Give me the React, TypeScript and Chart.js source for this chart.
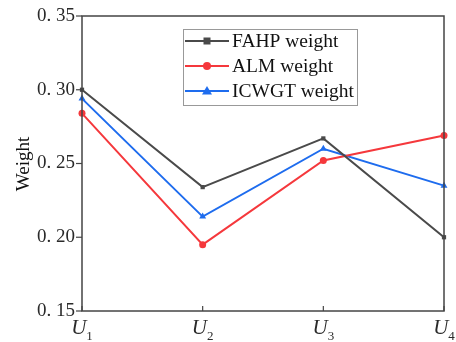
import React, { useEffect, useRef } from "react";
import { Chart, registerables } from "chart.js";

Chart.register(...registerables);

const categories = ["U1", "U2", "U3", "U4"];
const fahpWeight = [0.300, 0.234, 0.267, 0.200];
const almWeight = [0.284, 0.195, 0.252, 0.269];
const icwgtWeight = [0.294, 0.214, 0.260, 0.235];
const yTicks = [0.15, 0.2, 0.25, 0.3, 0.35];
const seriesNames = ["FAHP weight", "ALM weight", "ICWGT weight"];
const yTitle = "Weight";

const SERIF = "'Liberation Serif', 'DejaVu Serif', serif";

const framePlugin = {
  id: "frameAndTicks",
  afterDraw(chart: any) {
    const { ctx, chartArea } = chart;
    const { left, right, top, bottom } = chartArea;
    const xs = chart.scales.x;
    const ys = chart.scales.y;
    ctx.save();
    // frame
    ctx.strokeStyle = "#444";
    ctx.lineWidth = 1.5;
    ctx.strokeRect(left, top, right - left, bottom - top);
    // y ticks (outside) and labels
    ctx.lineWidth = 1.2;
    ctx.fillStyle = "#2a2a2a";
    ctx.font = `19px ${SERIF}`;
    ctx.textAlign = "right";
    ctx.textBaseline = "middle";
    yTicks.forEach((v) => {
      const y = ys.getPixelForValue(v);
      ctx.beginPath();
      ctx.moveTo(left - 6, y);
      ctx.lineTo(left, y);
      ctx.stroke();
      const s = v.toFixed(2).replace(".", ". ");
      ctx.fillText(s, left - 7, y);
    });
    // x ticks (inside) and labels
    categories.forEach((c, i) => {
      const x = xs.getPixelForValue(i);
      ctx.beginPath();
      ctx.moveTo(x, bottom);
      ctx.lineTo(x, bottom - 5);
      ctx.stroke();
      const main = c.slice(0, 1);
      const sub = c.slice(1);
      ctx.font = `italic 21px ${SERIF}`;
      const mw = ctx.measureText(main).width;
      ctx.font = `13px ${SERIF}`;
      const sw = ctx.measureText(sub).width;
      let total = mw + sw;
      let x0 = x - total / 2;
      if (x0 + total > chart.width - 1) x0 = chart.width - 1 - total;
      ctx.textAlign = "left";
      ctx.textBaseline = "alphabetic";
      ctx.font = `italic 21px ${SERIF}`;
      ctx.fillText(main, x0, 334);
      ctx.font = `13px ${SERIF}`;
      ctx.fillText(sub, x0 + mw, 340);
    });
    // y title
    ctx.save();
    ctx.translate(24, 164);
    ctx.rotate(-Math.PI / 2);
    ctx.textAlign = "center";
    ctx.textBaseline = "middle";
    ctx.font = `19px ${SERIF}`;
    ctx.fillStyle = "#111";
    ctx.fillText(yTitle, 0, 0);
    ctx.restore();

    // legend
    const bx = 183, by = 29, bw = 174, bh = 76;
    ctx.fillStyle = "#fff";
    ctx.fillRect(bx, by, bw, bh);
    ctx.strokeStyle = "#999";
    ctx.lineWidth = 1;
    ctx.strokeRect(bx + 0.5, by + 0.5, bw, bh);
    chart.data.datasets.forEach((ds: any, i: number) => {
      const y = 41 + i * 25;
      ctx.strokeStyle = ds.borderColor;
      ctx.lineWidth = 2;
      ctx.beginPath();
      ctx.moveTo(185, y);
      ctx.lineTo(229, y);
      ctx.stroke();
      ctx.fillStyle = ds.borderColor;
      const mx = 207;
      if (ds.pointStyle === "rect") {
        ctx.fillRect(mx - 3.5, y - 3.5, 7, 7);
      } else if (ds.pointStyle === "circle") {
        ctx.beginPath();
        ctx.arc(mx, y, 4, 0, Math.PI * 2);
        ctx.fill();
      } else {
        ctx.beginPath();
        ctx.moveTo(mx, y - 5);
        ctx.lineTo(mx + 5, y + 3.5);
        ctx.lineTo(mx - 5, y + 3.5);
        ctx.closePath();
        ctx.fill();
      }
      ctx.fillStyle = "#111";
      ctx.font = `19.5px ${SERIF}`;
      ctx.textAlign = "left";
      ctx.textBaseline = "middle";
      ctx.fillText(seriesNames[i], 232, y + 1);
    });
    ctx.restore();
  },
};

export default function App() {
  const ref = useRef<HTMLCanvasElement>(null);
  useEffect(() => {
    document.body.style.margin = "0";
    const colors = ["#4a4a4a", "#f5383c", "#1e6cee"];
    const styles = ["rect", "circle", "triangle"];
    const radii = [3, 3.5, 4];
    const values = [fahpWeight, almWeight, icwgtWeight];
    const chart = new Chart(ref.current!, {
      type: "line",
      data: {
        labels: categories,
        datasets: values.map((d, i) => ({
          label: seriesNames[i],
          data: d,
          borderColor: colors[i],
          backgroundColor: colors[i],
          pointBackgroundColor: colors[i],
          pointBorderColor: colors[i],
          pointStyle: styles[i] as any,
          pointRadius: radii[i],
          pointBorderWidth: 0,
          borderWidth: 2,
          tension: 0,
        })),
      },
      options: {
        responsive: false,
        animation: false,
        layout: { padding: { top: 16, right: 12, left: 0, bottom: 0 } },
        plugins: { legend: { display: false }, tooltip: { enabled: false } },
        scales: {
          x: {
            type: "category",
            offset: false,
            grid: { display: false },
            border: { display: false },
            ticks: { display: false },
            afterFit: (s: any) => { s.height = 31; },
          },
          y: {
            min: 0.15,
            max: 0.35,
            grid: { display: false },
            border: { display: false },
            ticks: { display: false, stepSize: 0.05 },
            afterFit: (s: any) => { s.width = 82; },
          },
        },
      },
      plugins: [framePlugin],
    });
    return () => chart.destroy();
  }, []);
  return (
    <div style={{ width: 456, height: 342, background: "#fff" }}>
      <canvas ref={ref} width={456} height={342} />
    </div>
  );
}
